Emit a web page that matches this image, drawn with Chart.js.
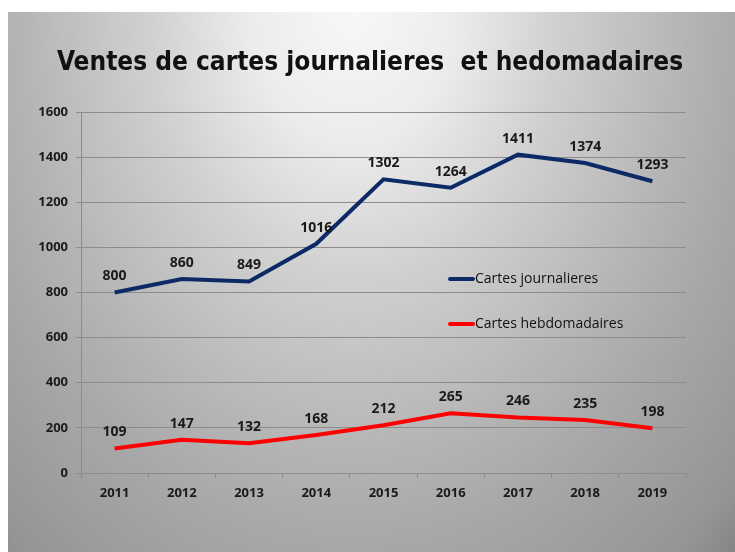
<!DOCTYPE html>
<html>
<head>
<meta charset="utf-8">
<script src="https://cdn.jsdelivr.net/npm/chart.js@4.4.1/dist/chart.umd.min.js"></script>
<style>
  html, body { margin: 0; padding: 0; background: #ffffff; }
  #wrap { position: absolute; left: 8px; top: 12px; width: 727px; height: 540px; }
</style>
</head>
<body>
<div id="wrap"><canvas id="c"></canvas></div>
<script>
const years = ['2011', '2012', '2013', '2014', '2015', '2016', '2017', '2018', '2019'];
const journalieres = [800, 860, 849, 1016, 1302, 1264, 1411, 1374, 1293];
const hebdomadaires = [109, 147, 132, 168, 212, 265, 246, 235, 198];
const seriesNames = ['Cartes journalieres', 'Cartes hebdomadaires'];
const titleText = 'Ventes de cartes journalieres  et hedomadaires';
const yMin = 0, yMax = 1600, yStep = 200;

const FONT = '"Open Sans", "DejaVu Sans", sans-serif';
const TITLE_FONT = '"Liberation Sans Narrow", "DejaVu Sans Condensed", "Open Sans", sans-serif';

const bgPlugin = {
  id: 'bg',
  beforeDraw(chart) {
    const ctx = chart.ctx, w = chart.width, h = chart.height;
    const cx = 345, cy = -10, rx = 520, ry = 700;
    ctx.save();
    ctx.translate(cx, cy);
    ctx.scale(1, ry / rx);
    const g = ctx.createRadialGradient(0, 0, 0, 0, 0, rx * 1.1);
    g.addColorStop(0, '#f8f8f8');
    g.addColorStop(0.18, '#ececec');
    g.addColorStop(0.36, '#d0d0d0');
    g.addColorStop(0.58, '#b5b5b5');
    g.addColorStop(0.70, '#a8a8a8');
    g.addColorStop(0.91, '#959595');
    g.addColorStop(1, '#808080');
    ctx.fillStyle = g;
    ctx.fillRect(-cx, -cy * rx / ry - 10, w + 10, (h + 20) * rx / ry + 20);
    ctx.restore();
  }
};

const titlePlugin = {
  id: 'centredTitle',
  afterDraw(chart) {
    const ctx = chart.ctx;
    ctx.save();
    ctx.font = 'bold 26px ' + TITLE_FONT;
    ctx.fillStyle = '#111111';
    ctx.textAlign = 'center';
    ctx.textBaseline = 'middle';
    ctx.fillText(titleText, 362, 51);
    ctx.restore();
  }
};

const labelsPlugin = {
  id: 'valueLabels',
  afterDatasetsDraw(chart) {
    const ctx = chart.ctx;
    ctx.save();
    ctx.font = 'bold 14px ' + FONT;
    ctx.fillStyle = '#1a1a1a';
    ctx.textAlign = 'center';
    ctx.textBaseline = 'middle';
    chart.data.datasets.forEach((ds, i) => {
      const meta = chart.getDatasetMeta(i);
      meta.data.forEach((pt, j) => {
        ctx.fillText(String(ds.data[j]), pt.x, pt.y - 16);
      });
    });
    ctx.restore();
  }
};

const legendPlugin = {
  id: 'innerLegend',
  afterDatasetsDraw(chart) {
    const ctx = chart.ctx;
    const pos = [{x: 442, y: 267}, {x: 442, y: 312}];
    ctx.save();
    chart.data.datasets.forEach((ds, i) => {
      const p = pos[i];
      ctx.strokeStyle = ds.borderColor;
      ctx.lineWidth = 4;
      ctx.lineCap = 'round';
      ctx.beginPath();
      ctx.moveTo(p.x, p.y);
      ctx.lineTo(p.x + 23, p.y);
      ctx.stroke();
      ctx.font = '14px ' + FONT;
      ctx.fillStyle = '#111111';
      ctx.textAlign = 'left';
      ctx.textBaseline = 'middle';
      ctx.fillText(ds.label, p.x + 25, p.y);
    });
    ctx.restore();
  }
};

new Chart(document.getElementById('c'), {
  type: 'line',
  data: {
    labels: years,
    datasets: [
      { label: seriesNames[0], data: journalieres, borderColor: '#0c2a66', backgroundColor: '#0c2a66',
        borderWidth: 4, pointRadius: 0, tension: 0, fill: false },
      { label: seriesNames[1], data: hebdomadaires, borderColor: '#ff0000', backgroundColor: '#ff0000',
        borderWidth: 4, pointRadius: 0, tension: 0, fill: false }
    ]
  },
  options: {
    responsive: true,
    maintainAspectRatio: false,
    animation: false,
    events: [],
    layout: { padding: { left: 8, right: 49, top: 100, bottom: 49 } },
    plugins: {
      legend: { display: false },
      tooltip: { enabled: false },
      title: { display: false }
    },
    scales: {
      x: {
        offset: true,
        grid: { offset: true, drawOnChartArea: false, drawTicks: true, tickLength: 5, color: '#8c8c8c' },
        border: { color: '#8c8c8c', width: 1 },
        ticks: { color: '#1a1a1a', font: { family: FONT, size: 13, weight: 'bold' }, padding: 7, maxRotation: 0 },
        afterFit(s) { s.height = 30; }
      },
      y: {
        min: yMin, max: yMax,
        grid: { color: '#8c8c8c', tickLength: 5, lineWidth: 1 },
        border: { color: '#8c8c8c', width: 1 },
        ticks: { stepSize: yStep, color: '#1a1a1a', font: { family: FONT, size: 13, weight: 'bold' }, padding: 8,
                 callback: (v) => String(v) },
        afterFit(s) { s.width = 65; }
      }
    }
  },
  plugins: [bgPlugin, labelsPlugin, legendPlugin, titlePlugin]
});
</script>
</body>
</html>
